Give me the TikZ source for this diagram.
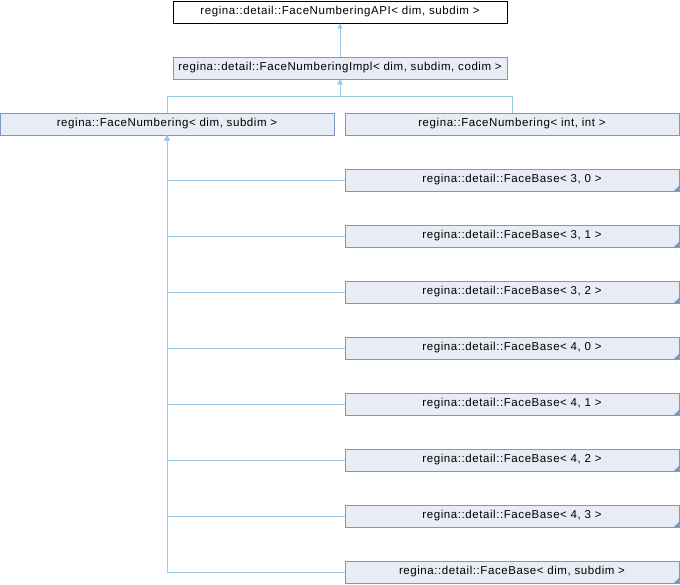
\documentclass[tikz,border=0pt]{standalone}
\usepackage{fontspec}
\setmainfont{Liberation Sans}[LetterSpace=5]
\usepackage{tikz}
\usetikzlibrary{arrows.meta}

\definecolor{boxfill}{RGB}{232,236,245}
\definecolor{boxline}{RGB}{124,150,198}
\definecolor{inhline}{RGB}{154,202,232}

\begin{document}
\begin{tikzpicture}[x=1pt,y=-1pt]
            \useasboundingbox (0,0) rectangle (680,584);
            \tikzset{ClassStyle/.style={draw=boxline,fill=boxfill,line width=0.9pt,
                minimum width=334pt,minimum height=22pt,inner sep=0pt,
                font=\fontsize{11.5}{13}\selectfont}};
            \tikzset{ApiStyle/.style={ClassStyle,draw=black,fill=white}};
            \tikzset{InhStyle/.style={draw=inhline,line width=0.9pt,
                {Triangle[length=5pt,width=5pt,fill=inhline]}-}};

            \node[ApiStyle]   (api)  at (340,12)    {regina::detail::FaceNumberingAPI< dim, subdim >};
            \node[ClassStyle] (impl) at (340,68)    {regina::detail::FaceNumberingImpl< dim, subdim, codim >};
            \node[ClassStyle] (fn_ds) at (167,124)  {regina::FaceNumbering< dim, subdim >};
            \node[ClassStyle] (fn_ii) at (512,124)  {regina::FaceNumbering< int, int >};

            \node[ClassStyle] (fb_30) at (512,180)  {regina::detail::FaceBase< 3, 0 >};
            \node[ClassStyle] (fb_31) at (512,236)  {regina::detail::FaceBase< 3, 1 >};
            \node[ClassStyle] (fb_32) at (512,292)  {regina::detail::FaceBase< 3, 2 >};
            \node[ClassStyle] (fb_40) at (512,348)  {regina::detail::FaceBase< 4, 0 >};
            \node[ClassStyle] (fb_41) at (512,404)  {regina::detail::FaceBase< 4, 1 >};
            \node[ClassStyle] (fb_42) at (512,460)  {regina::detail::FaceBase< 4, 2 >};
            \node[ClassStyle] (fb_43) at (512,516)  {regina::detail::FaceBase< 4, 3 >};
            \node[ClassStyle] (fb_ds) at (512,572)  {regina::detail::FaceBase< dim, subdim >};

            \fill[boxline] (fb_30.south east) -- ++(-6,0) -- ++(6,-6) -- cycle;
            \fill[boxline] (fb_31.south east) -- ++(-6,0) -- ++(6,-6) -- cycle;
            \fill[boxline] (fb_32.south east) -- ++(-6,0) -- ++(6,-6) -- cycle;
            \fill[boxline] (fb_40.south east) -- ++(-6,0) -- ++(6,-6) -- cycle;
            \fill[boxline] (fb_41.south east) -- ++(-6,0) -- ++(6,-6) -- cycle;
            \fill[boxline] (fb_42.south east) -- ++(-6,0) -- ++(6,-6) -- cycle;
            \fill[boxline] (fb_43.south east) -- ++(-6,0) -- ++(6,-6) -- cycle;
            \fill[boxline] (fb_ds.south east) -- ++(-6,0) -- ++(6,-6) -- cycle;

            \coordinate (bus) at (340,96);

            \draw[InhStyle] (api.south) -- (impl.north);
            \draw[InhStyle] (impl.south) -- (bus) -| (fn_ds.north);
            \draw[InhStyle] (impl.south) -- (bus) -| (fn_ii.north);

            \draw[InhStyle] (fn_ds.south) |- (fb_30.west);
            \draw[InhStyle] (fn_ds.south) |- (fb_31.west);
            \draw[InhStyle] (fn_ds.south) |- (fb_32.west);
            \draw[InhStyle] (fn_ds.south) |- (fb_40.west);
            \draw[InhStyle] (fn_ds.south) |- (fb_41.west);
            \draw[InhStyle] (fn_ds.south) |- (fb_42.west);
            \draw[InhStyle] (fn_ds.south) |- (fb_43.west);
            \draw[InhStyle] (fn_ds.south) |- (fb_ds.west);
          \end{tikzpicture}
\end{document}
